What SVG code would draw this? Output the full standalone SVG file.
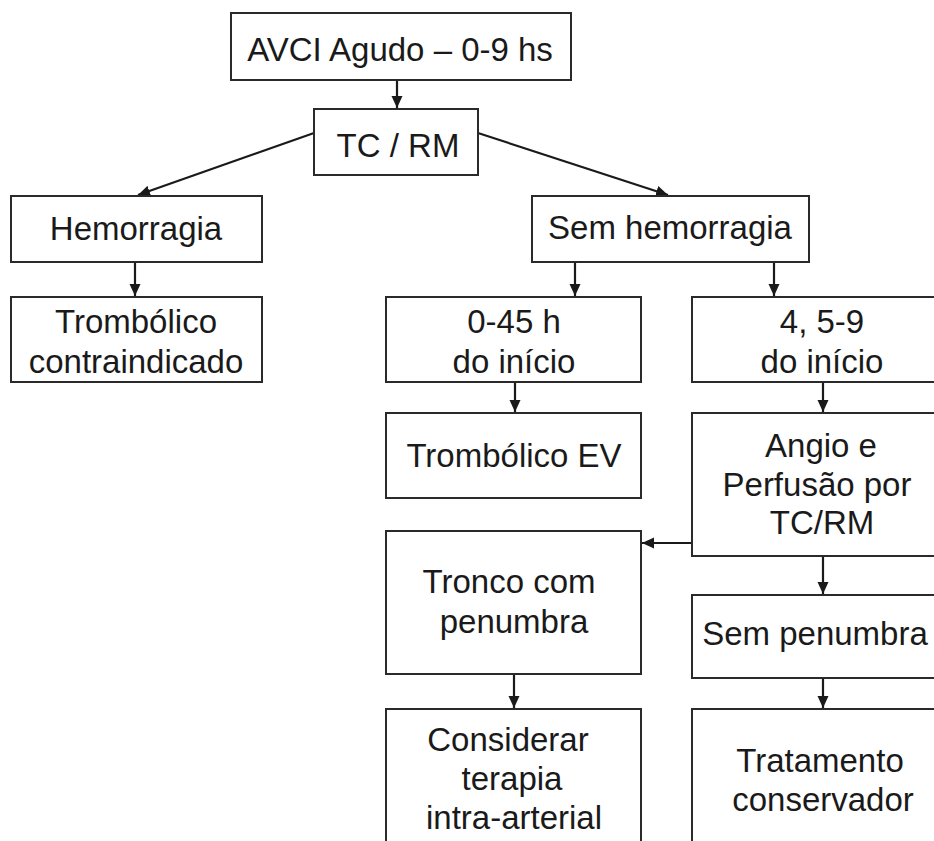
<svg xmlns="http://www.w3.org/2000/svg" width="934" height="841" viewBox="0 0 934 841">
<style>
.box{fill:#fff;stroke:#2a2a2a;stroke-width:2}
.t{font-family:"Liberation Sans",Arial,Helvetica,sans-serif;font-size:33px;fill:#1a1a1a;text-anchor:middle}
.c{stroke:#1a1a1a;stroke-width:2.2;fill:none;marker-end:url(#ah)}
</style>
<defs>
<marker id="ah" markerUnits="userSpaceOnUse" markerWidth="12" markerHeight="12" viewBox="0 0 12 12" refX="12" refY="6" orient="auto">
<path d="M0,0.5 L12,6 L0,11.5 z" fill="#1a1a1a"/>
</marker>
</defs>
<rect width="934" height="841" fill="#fff"/>
<g id="connectors">
<line class="c" x1="397" y1="80" x2="397" y2="108"/>
<line class="c" x1="314" y1="133" x2="138" y2="195"/>
<line class="c" x1="478" y1="133" x2="668" y2="195"/>
<line class="c" x1="135" y1="262" x2="135" y2="296"/>
<line class="c" x1="575" y1="262" x2="575" y2="296"/>
<line class="c" x1="774" y1="262" x2="774" y2="296"/>
<line class="c" x1="515" y1="382" x2="515" y2="412"/>
<line class="c" x1="823" y1="382" x2="823" y2="412"/>
<line class="c" x1="692" y1="543" x2="642" y2="543"/>
<line class="c" x1="823" y1="556" x2="823" y2="594"/>
<line class="c" x1="514" y1="674" x2="514" y2="708"/>
<line class="c" x1="823" y1="678" x2="823" y2="708"/>
</g>
<g id="n-avci">
<rect class="box" x="231" y="13" width="340" height="67"/>
<text class="t" x="400" y="61">AVCI Agudo – 0-9 hs</text>
</g>
<g id="n-tcrm">
<rect class="box" x="314" y="109" width="164" height="66"/>
<text class="t" x="398" y="157">TC / RM</text>
</g>
<g id="n-hemorragia">
<rect class="box" x="11" y="196" width="251" height="66"/>
<text class="t" x="136" y="240">Hemorragia</text>
</g>
<g id="n-semhemorragia">
<rect class="box" x="532" y="196" width="277" height="66"/>
<text class="t" x="670" y="239">Sem hemorragia</text>
</g>
<g id="n-trombcontra">
<rect class="box" x="11" y="297" width="251" height="85"/>
<text class="t" x="136" y="333">Trombólico</text>
<text class="t" x="136" y="373">contraindicado</text>
</g>
<g id="n-045">
<rect class="box" x="386" y="297" width="255" height="85"/>
<text class="t" x="514" y="333">0-45 h</text>
<text class="t" x="514" y="373">do início</text>
</g>
<g id="n-459">
<rect class="box" x="692" y="297" width="262" height="85"/>
<text class="t" x="822" y="333">4, 5-9</text>
<text class="t" x="822" y="373">do início</text>
</g>
<g id="n-trombev">
<rect class="box" x="386" y="413" width="255" height="85"/>
<text class="t" x="514" y="467">Trombólico EV</text>
</g>
<g id="n-angio">
<rect class="box" x="692" y="413" width="262" height="143"/>
<text class="t" x="821" y="457">Angio e</text>
<text class="t" x="817" y="496">Perfusão por</text>
<text class="t" x="822" y="534">TC/RM</text>
</g>
<g id="n-tronco">
<rect class="box" x="386" y="531" width="255" height="143"/>
<text class="t" x="509" y="593">Tronco com</text>
<text class="t" x="514" y="633">penumbra</text>
</g>
<g id="n-sempenumbra">
<rect class="box" x="692" y="595" width="262" height="83"/>
<text class="t" x="815" y="645">Sem penumbra</text>
</g>
<g id="n-considerar">
<rect class="box" x="386" y="709" width="255" height="150"/>
<text class="t" x="508" y="751">Considerar</text>
<text class="t" x="512" y="790">terapia</text>
<text class="t" x="514" y="829">intra-arterial</text>
</g>
<g id="n-tratamento">
<rect class="box" x="692" y="709" width="262" height="150"/>
<text class="t" x="820" y="772">Tratamento</text>
<text class="t" x="823" y="811">conservador</text>
</g>
</svg>
